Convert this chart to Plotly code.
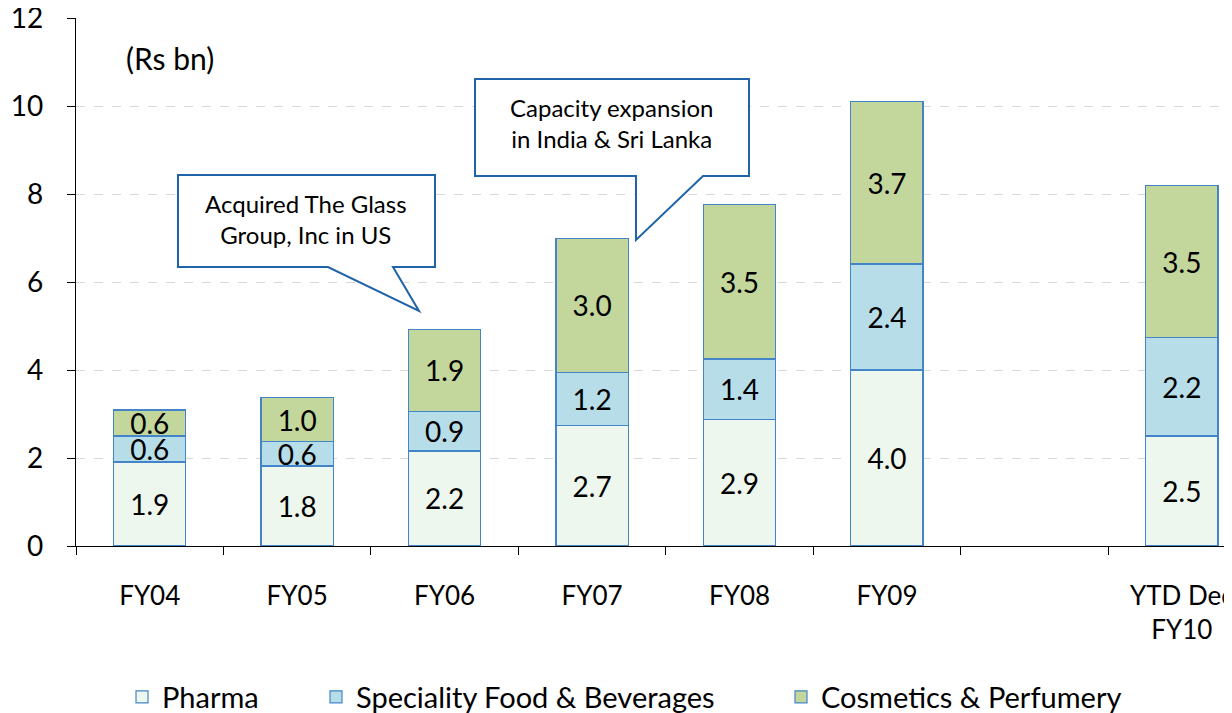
import plotly.graph_objects as go

categories = ["FY04", "FY05", "FY06", "FY07", "FY08", "FY09", " ", "YTD Dec<br>FY10"]
pharma = [1.91, 1.82, 2.16, 2.73, 2.87, 4.00, None, 2.50]
speciality = [0.59, 0.55, 0.90, 1.22, 1.38, 2.41, None, 2.23]
cosmetics = [0.59, 1.00, 1.86, 3.04, 3.52, 3.70, None, 3.47]
series_names = ["Pharma", "Speciality Food & Beverages", "Cosmetics & Perfumery"]
series_colors = ["#EEF7EE", "#B7DDE8", "#C3D69B"]

FONT = "Lato"
OUTLINE = "#4385C8"
CALLOUT = "#1F64A8"

# page has an 8px body margin; work in screenshot pixels and convert
OFF = 8
W, H = 1232 - OFF, 713 - OFF
L, R, T, B = 76 - OFF, 1232 - OFF, 18 - OFF, 546 - OFF

def px(x, y):
    x, y = x - OFF, y - OFF
    return (x - L) / (R - L), (B - y) / (B - T)

fig = go.Figure()
legend_ids = ["legend", "legend2", "legend3"]
for name, vals, col, lg in zip(series_names, [pharma, speciality, cosmetics], series_colors, legend_ids):
    fig.add_trace(go.Bar(
        x=categories, y=vals, name=name, legend=lg,
        marker=dict(color=col, line=dict(color=OUTLINE, width=1.2)),
        width=0.49,
        texttemplate="%{y:.1f}", textposition="inside", insidetextanchor="middle",
        textfont=dict(family=FONT, size=28, color="black"),
        cliponaxis=False,
    ))

def path_from(points):
    pts = [px(x, y) for x, y in points]
    return "M " + " L ".join(f"{a:.5f},{b:.5f}" for a, b in pts) + " Z"

callout1 = [(178, 175), (435, 175), (435, 267), (393, 267), (419, 311), (328, 267), (178, 267)]
callout2 = [(475, 79), (749, 79), (749, 176), (703, 176), (636, 240), (636, 176), (475, 176)]
shapes = []
for c in (callout1, callout2):
    shapes.append(dict(type="path", xref="paper", yref="paper", path=path_from(c),
                       fillcolor="white", line=dict(color=CALLOUT, width=2), layer="above"))

annotations = []
def add_text(text, x, y, size):
    a, b = px(x, y)
    annotations.append(dict(text=text, x=a, y=b, xref="paper", yref="paper",
                            showarrow=False, xanchor="center", yanchor="middle",
                            font=dict(family=FONT, size=size, color="black")))

add_text("(Rs bn)", 170, 58, 30)
add_text("Acquired The Glass<br>Group, Inc in US", 306, 219, 24)
add_text("Capacity expansion<br>in India &amp; Sri Lanka", 612, 123, 24)

def legend_at(text_start):
    return dict(orientation="h", xref="container", yref="container",
                x=(text_start - OFF - 41) / W, xanchor="left",
                y=1 - (697 - OFF) / H, yanchor="middle",
                font=dict(family=FONT, size=29, color="black"), bgcolor="rgba(0,0,0,0)")

fig.update_layout(
    barmode="stack",
    width=W, height=H,
    margin=dict(l=L, r=W - R, t=T, b=H - B, autoexpand=False),
    plot_bgcolor="white", paper_bgcolor="white",
    font=dict(family=FONT, size=26, color="black"),
    uniformtext=dict(minsize=28, mode="show"),
    shapes=shapes, annotations=annotations,
    showlegend=True,
    legend=legend_at(163), legend2=legend_at(357), legend3=legend_at(822),
    xaxis=dict(range=[-0.5, 7.34], showline=True, linecolor="black", linewidth=1.2,
               ticks="outside", tickson="boundaries", ticklen=8, tickcolor="black",
               showgrid=False, tickfont=dict(family=FONT, size=26), ticklabelstandoff=27,
               ticklabeloverflow="allow", automargin=False),
    yaxis=dict(range=[0, 12], dtick=2, showline=True, linecolor="black", linewidth=1.2,
               ticks="outside", ticklen=8, tickcolor="black",
               showgrid=True, gridcolor="#D9D9D9", griddash="dash", gridwidth=1,
               zeroline=False, tickfont=dict(family=FONT, size=28), ticklabelstandoff=18,
               ticklabeloverflow="allow", automargin=False),
)

fig.write_html("out.html")
